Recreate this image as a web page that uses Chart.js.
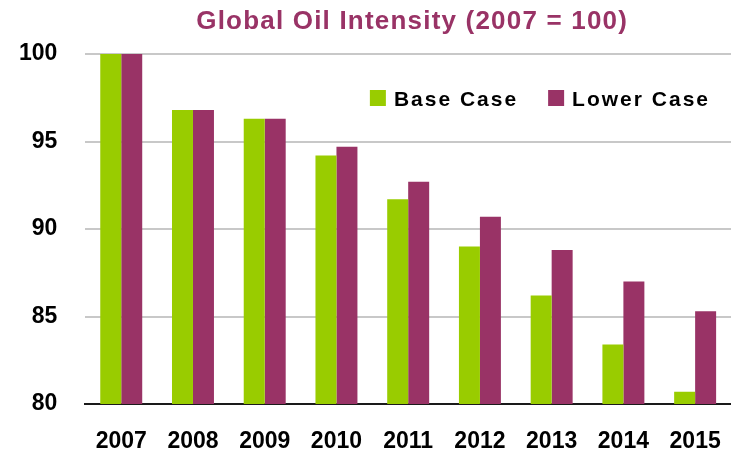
<!DOCTYPE html>
<html>
<head>
<meta charset="utf-8">
<title>Global Oil Intensity</title>
<script src="https://cdn.jsdelivr.net/npm/chart.js@4"></script>
<style>
    html, body {
        margin: 0;
        padding: 0;
        overflow: hidden;
        background: #ffffff;
    }
    #oilChart {
        display: block;
    }
</style>
</head>
<body>
<canvas id="oilChart" width="731" height="450"></canvas>
<script>
// Values per year, index 2007 = 100
const years = ['2007', '2008', '2009', '2010', '2011', '2012', '2013', '2014', '2015'];
const baseCase = [100, 96.8, 96.3, 94.2, 91.7, 89.0, 86.2, 83.4, 80.7];
const lowerCase = [100, 96.8, 96.3, 94.7, 92.7, 90.7, 88.8, 87.0, 85.3];
const yTicks = [80, 85, 90, 95, 100];

const chartTitle = 'Global Oil Intensity (2007 = 100)';
const green = '#99cc00';
const plum = '#993366';
const fontFamily = '"Liberation Sans", Arial, sans-serif';

// Title and key are drawn by hand so the letters can be spaced out
const headerAndKey = {
    id: 'headerAndKey',
    afterDraw(chart) {
        const c = chart.ctx;
        const area = chart.chartArea;

        c.save();
        c.letterSpacing = '1.2px';
        c.font = 'bold 26px ' + fontFamily;
        c.fillStyle = plum;
        c.textAlign = 'center';
        c.textBaseline = 'alphabetic';
        c.fillText(chartTitle, (area.left + area.right) / 2 + 4, 29);

        // key, laid out from the right edge of the plot
        c.letterSpacing = '2px';
        c.font = 'bold 21px ' + fontFamily;
        c.textAlign = 'left';
        const box = 16;
        const gap = 8;
        const itemGap = 30;
        const baseline = area.top + 52;
        const items = chart.data.datasets.map(ds => ({
            text: ds.label,
            color: ds.backgroundColor,
            width: box + gap + c.measureText(ds.label).width
        }));
        let x = area.right - 21 - items.reduce((s, it) => s + it.width, 0) - itemGap * (items.length - 1);
        items.forEach(it => {
            c.fillStyle = it.color;
            c.fillRect(x, baseline - 16, box, box);
            c.fillStyle = '#000000';
            c.fillText(it.text, x + box + gap, baseline);
            x += it.width + itemGap;
        });
        c.restore();
    }
};

const ctx = document.getElementById('oilChart').getContext('2d');

const data = {
    labels: years,
    datasets: [
        {
            label: 'Base Case',
            data: baseCase,
            backgroundColor: green,
            borderWidth: 0,
            barPercentage: 1,
            categoryPercentage: 0.585
        },
        {
            label: 'Lower Case',
            data: lowerCase,
            backgroundColor: plum,
            borderWidth: 0,
            barPercentage: 1,
            categoryPercentage: 0.585
        }
    ]
};

const options = {
    responsive: false,
    animation: false,
    layout: {
        padding: { left: 19, right: 0, top: 54, bottom: -3 }
    },
    plugins: {
        title: { display: false },
        legend: { display: false },
        tooltip: { enabled: false }
    },
    scales: {
        x: {
            grid: { display: false, drawTicks: false },
            border: { display: true, color: '#1a1a1a', width: 2 },
            ticks: {
                color: '#000000',
                padding: 26,
                font: { family: fontFamily, size: 23, weight: 'bold', lineHeight: 1 }
            },
            // the tick padding is counted twice when fitting, take it back out
            afterFit(axis) {
                axis.height -= axis.options.ticks.padding;
                axis.paddingLeft = 0;
                axis.paddingRight = 0;
            }
        },
        y: {
            min: 80,
            max: 100,
            afterBuildTicks(axis) {
                axis.ticks = yTicks.map(v => ({ value: v }));
            },
            grid: { color: '#c8c8c8', lineWidth: 2, drawTicks: false },
            border: { display: false },
            ticks: {
                color: '#000000',
                padding: 28,
                font: { family: fontFamily, size: 23, weight: 'bold' }
            },
            afterFit(axis) {
                axis.width -= axis.options.ticks.padding;
            }
        }
    }
};

const oilChart = new Chart(ctx, {
    type: 'bar',
    data: data,
    options: options,
    plugins: [headerAndKey]
});
</script>
</body>
</html>
